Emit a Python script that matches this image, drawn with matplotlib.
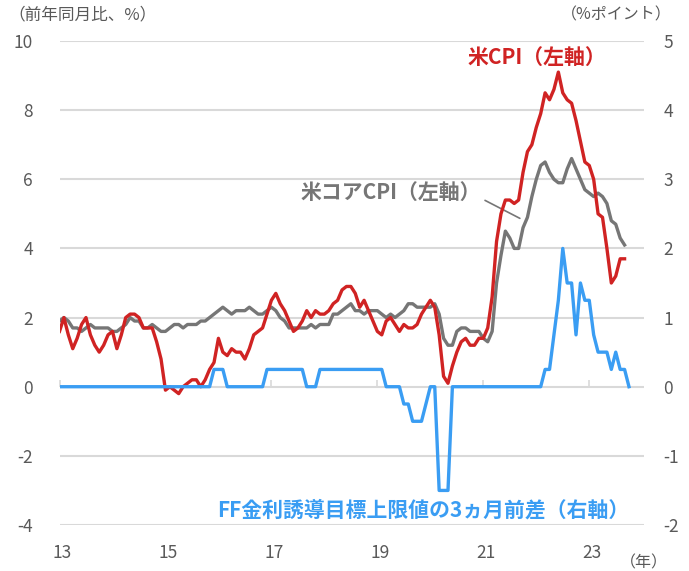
import matplotlib
matplotlib.use('Agg')
import matplotlib.pyplot as plt
import numpy as np

plt.rcParams['font.family'] = ['Noto Sans CJK JP', 'DejaVu Sans']
plt.rcParams['axes.unicode_minus'] = False

# 米CPI 前年同月比（%）2013/1 - 2023/9
cpi = [1.6, 2.0, 1.5, 1.1, 1.4, 1.8, 2.0, 1.5, 1.2, 1.0, 1.2, 1.5,
       1.6, 1.1, 1.5, 2.0, 2.1, 2.1, 2.0, 1.7, 1.7, 1.7, 1.3, 0.8,
       -0.1, 0.0, -0.1, -0.2, 0.0, 0.1, 0.2, 0.2, 0.0, 0.2, 0.5, 0.7,
       1.4, 1.0, 0.9, 1.1, 1.0, 1.0, 0.8, 1.1, 1.5, 1.6, 1.7, 2.1,
       2.5, 2.7, 2.4, 2.2, 1.9, 1.6, 1.7, 1.9, 2.2, 2.0, 2.2, 2.1,
       2.1, 2.2, 2.4, 2.5, 2.8, 2.9, 2.9, 2.7, 2.3, 2.5, 2.2, 1.9,
       1.6, 1.5, 1.9, 2.0, 1.8, 1.6, 1.8, 1.7, 1.7, 1.8, 2.1, 2.3,
       2.5, 2.3, 1.5, 0.3, 0.1, 0.6, 1.0, 1.3, 1.4, 1.2, 1.2, 1.4,
       1.4, 1.7, 2.6, 4.2, 5.0, 5.4, 5.4, 5.3, 5.4, 6.2, 6.8, 7.0,
       7.5, 7.9, 8.5, 8.3, 8.6, 9.1, 8.5, 8.3, 8.2, 7.7, 7.1, 6.5,
       6.4, 6.0, 5.0, 4.9, 4.0, 3.0, 3.2, 3.7, 3.7]

# 米コアCPI 前年同月比（%）
core = [1.9, 2.0, 1.9, 1.7, 1.7, 1.6, 1.7, 1.8, 1.7, 1.7, 1.7, 1.7,
        1.6, 1.6, 1.7, 1.8, 2.0, 1.9, 1.9, 1.7, 1.7, 1.8, 1.7, 1.6,
        1.6, 1.7, 1.8, 1.8, 1.7, 1.8, 1.8, 1.8, 1.9, 1.9, 2.0, 2.1,
        2.2, 2.3, 2.2, 2.1, 2.2, 2.2, 2.2, 2.3, 2.2, 2.1, 2.1, 2.2,
        2.3, 2.2, 2.0, 1.9, 1.7, 1.7, 1.7, 1.7, 1.7, 1.8, 1.7, 1.8,
        1.8, 1.8, 2.1, 2.1, 2.2, 2.3, 2.4, 2.2, 2.2, 2.1, 2.2, 2.2,
        2.2, 2.1, 2.0, 2.1, 2.0, 2.1, 2.2, 2.4, 2.4, 2.3, 2.3, 2.3,
        2.3, 2.4, 2.1, 1.4, 1.2, 1.2, 1.6, 1.7, 1.7, 1.6, 1.6, 1.6,
        1.4, 1.3, 1.6, 3.0, 3.8, 4.5, 4.3, 4.0, 4.0, 4.6, 4.9, 5.5,
        6.0, 6.4, 6.5, 6.2, 6.0, 5.9, 5.9, 6.3, 6.6, 6.3, 6.0, 5.7,
        5.6, 5.5, 5.6, 5.5, 5.3, 4.8, 4.7, 4.3, 4.1]

# FF金利誘導目標上限値の3ヵ月前差（%ポイント）2013/1 - 2023/10
ff_diff = [0] * 35 + [0.25, 0.25, 0.25] + [0] * 9 + \
          [0.25] * 9 + [0, 0, 0] + [0.25] * 15 + [0, 0, 0, 0] + \
          [-0.25, -0.25, -0.5, -0.5, -0.5, -0.25, 0, 0, -1.5, -1.5, -1.5] + \
          [0] * 21 + \
          [0.25, 0.25, 0.75, 1.25, 2.0, 1.5, 1.5, 0.75, 1.5, 1.25,
           1.25, 0.75, 0.5, 0.5, 0.5, 0.25, 0.5, 0.25, 0.25, 0]

year_ticks = [2013, 2015, 2017, 2019, 2021, 2023]
year_labels = ['13', '15', '17', '19', '21', '23']

x_cpi = 2013 + np.arange(len(cpi)) / 12
x_ff = 2013 + np.arange(len(ff_diff)) / 12

RED = '#d02323'
GRAY = '#767676'
BLUE = '#3a9df3'
TXT = '#595959'
GRID = '#d9d9d9'

W, H = 689, 571
fig = plt.figure(figsize=(W / 100, H / 100), dpi=100)
ax = fig.add_axes([59.5 / W, 1 - 525 / H, (644 - 59.5) / W, (525 - 41) / H])

ax.set_xlim(2013, 2013 + 132.4 / 12)
ax.set_ylim(-4, 10)
ax.set_yticks(np.arange(-4, 11, 2))
ax.yaxis.grid(True, color=GRID, linewidth=1.5)
ax.set_axisbelow(True)
for s in ax.spines.values():
    s.set_visible(False)
ax.spines['bottom'].set_position(('data', 0))
ax.set_xticks(year_ticks)
ax.tick_params(axis='x', direction='in', length=5, width=1.2, color=GRID,
               labelbottom=False)
ax.tick_params(axis='y', length=0, pad=19, labelsize=12.5, labelcolor=TXT)

ax.plot(x_cpi, core, color=GRAY, linewidth=2.4, zorder=3)
ax.plot(x_cpi, cpi, color=RED, linewidth=2.4, zorder=4)

# 右軸
ax2 = ax.twinx()
ax2.set_ylim(-2, 5)
ax2.set_yticks(np.arange(-2, 6, 1))
for s in ax2.spines.values():
    s.set_visible(False)
ax2.tick_params(axis='y', length=0, pad=14, labelsize=12.5, labelcolor=TXT)
ax2.plot(x_ff, ff_diff, color=BLUE, linewidth=2.4)

# 年ラベル
sec = ax.secondary_xaxis('bottom')
sec.set_xticks([y + 0.05 for y in year_ticks], labels=year_labels)
sec.tick_params(length=0, pad=14, labelsize=12.5, labelcolor=TXT)
for s in sec.spines.values():
    s.set_visible(False)

# 系列ラベル
fig.text(537 / W, 1 - 57 / H, '米CPI（左軸）', color=RED, fontsize=15,
         fontweight='bold', ha='center', va='center')
ax.annotate('米コアCPI（左軸）', xy=(2021.69, 4.87), xycoords='data',
            xytext=(481, H - 192), textcoords='figure pixels',
            color=GRAY, fontsize=15, fontweight='bold', ha='right', va='center',
            arrowprops=dict(arrowstyle='-', color=GRAY, lw=1.2,
                            relpos=(1.0, 0.2), shrinkA=1, shrinkB=0))
fig.text(423 / W, 1 - 510 / H, 'FF金利誘導目標上限値の3ヵ月前差（右軸）', color=BLUE,
         fontsize=15, fontweight='bold', ha='center', va='center')

# 軸タイトル
fig.text(8 / W, 1 - 15 / H, '（前年同月比、%）', color=TXT, fontsize=12,
         ha='left', va='center')
fig.text(672 / W, 1 - 15 / H, '（%ポイント）', color=TXT, fontsize=11.5,
         ha='right', va='center')
fig.text(644 / W, 1 - 563 / H, '（年）', color=TXT, fontsize=11.5,
         ha='center', va='center')

fig.savefig('out.png', dpi=100)
